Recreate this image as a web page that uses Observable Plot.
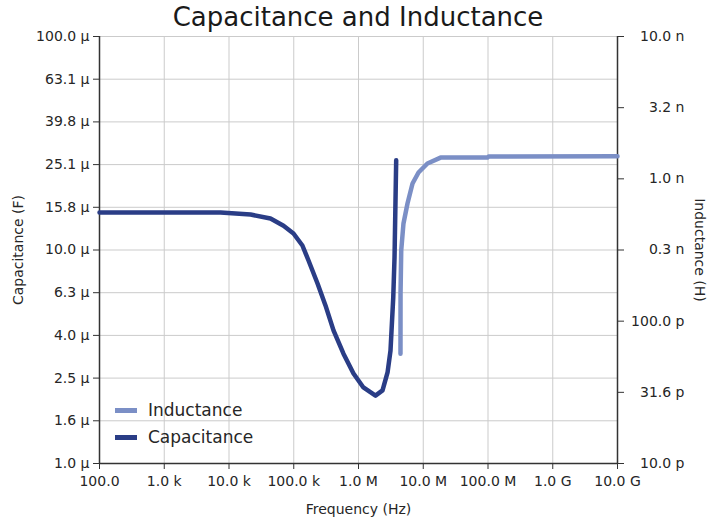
<!DOCTYPE html>
<html><head><meta charset="utf-8">
<script src="https://cdn.jsdelivr.net/npm/d3@7"></script>
<script src="https://cdn.jsdelivr.net/npm/@observablehq/plot@0.6"></script>
<style>
body{margin:0;background:#fff;font-family:"DejaVu Sans",sans-serif;}
#wrap{position:relative;width:724px;height:522px;overflow:hidden;}
#title{position:absolute;left:99px;width:518px;top:2px;text-align:center;font-size:26px;color:#1a1a1a;white-space:nowrap;}
.leg{position:absolute;left:115px;height:20px;display:flex;align-items:center;font-size:17px;color:#262626;}
.sw{width:22px;height:5px;margin-right:11px;}
</style></head>
<body><div id="wrap"><div id="title">Capacitance and Inductance</div></div>
<script>
// ---- data ----
const capFreq = [100, 1000, 7400, 21500, 43700, 69500, 99100, 136000, 169000, 233000, 309000, 411000, 586000, 837000, 1190000, 1830000, 2350000, 2810000, 3120000, 3440000, 3600000, 3820000];
const capValues = [15.0e-6, 15.0e-6, 15.0e-6, 14.66e-6, 14.05e-6, 13.0e-6, 11.95e-6, 10.5e-6, 8.93e-6, 6.97e-6, 5.5e-6, 4.2e-6, 3.27e-6, 2.64e-6, 2.27e-6, 2.08e-6, 2.2e-6, 2.67e-6, 3.38e-6, 5.99e-6, 9.22e-6, 26.3e-6];
const indFreq = [4450000, 4460000, 4570000, 4950000, 5710000, 6830000, 8450000, 11600000, 18500000, 98000000, 102000000, 10000000000];
const indValues = [59e-12, 156e-12, 314e-12, 486e-12, 671e-12, 927e-12, 1.108e-9, 1.282e-9, 1.41e-9, 1.41e-9, 1.435e-9, 1.44e-9];
const xTicks = [1e2, 1e3, 1e4, 1e5, 1e6, 1e7, 1e8, 1e9, 1e10];
const xTickLabels = ["100.0", "1.0 k", "10.0 k", "100.0 k", "1.0 M", "10.0 M", "100.0 M", "1.0 G", "10.0 G"];
const capTicks = [1e-6, 1.585e-6, 2.512e-6, 3.981e-6, 6.310e-6, 1e-5, 1.585e-5, 2.512e-5, 3.981e-5, 6.310e-5, 1e-4];
const capTickLabels = ["1.0 µ", "1.6 µ", "2.5 µ", "4.0 µ", "6.3 µ", "10.0 µ", "15.8 µ", "25.1 µ", "39.8 µ", "63.1 µ", "100.0 µ"];
const indTicks = [1e-11, 3.162e-11, 1e-10, 3.162e-10, 1e-9, 3.162e-9, 1e-8];
const indTickLabels = ["10.0 p", "31.6 p", "100.0 p", "0.3 n", "1.0 n", "3.2 n", "10.0 n"];
const seriesNames = ["Inductance", "Capacitance"];
const seriesColors = ["#7b8fc6", "#2a3d86"];

// inductance domain [1e-11,1e-8] mapped onto capacitance domain [1e-6,1e-4]
const toCap = L => Math.pow(10, -6 + (Math.log10(L) + 11) * 2 / 3);
const indTicksC = indTicks.map(toCap);
const lookup = (ticks, labels) => d => {
  let best = 0;
  ticks.forEach((t, i) => { if (Math.abs(Math.log(t / d)) < Math.abs(Math.log(ticks[best] / d))) best = i; });
  return labels[best];
};

const capData = capFreq.map((f, i) => ({f, v: capValues[i]}));
const indData = indFreq.map((f, i) => ({f, v: toCap(indValues[i])}));

const plot = Plot.plot({
  width: 724, height: 522,
  marginLeft: 99, marginRight: 107, marginTop: 36, marginBottom: 59,
  style: {fontFamily: "DejaVu Sans, sans-serif", fontSize: "14px", color: "#262626", background: "transparent"},
  x: {type: "log", domain: [1e2, 1e10]},
  y: {type: "log", domain: [1e-6, 1e-4]},
  marks: [
    Plot.gridX(xTicks, {stroke: "#cbcbcb", strokeOpacity: 1}),
    Plot.gridY(capTicks, {stroke: "#cbcbcb", strokeOpacity: 1}),
    Plot.axisX(xTicks, {tickFormat: lookup(xTicks, xTickLabels), tickSize: 6, tickPadding: 7, stroke: "#333", fill: "#262626", label: "Frequency (Hz)", labelAnchor: "center", labelArrow: "none", labelOffset: 50}),
    Plot.axisY(capTicks, {anchor: "left", tickFormat: lookup(capTicks, capTickLabels), tickSize: 6, tickPadding: 4, stroke: "#333", fill: "#262626", label: "Capacitance (F)", labelAnchor: "center", labelArrow: "none", labelOffset: 86}),
    Plot.axisY(indTicksC, {anchor: "right", tickFormat: lookup(indTicksC, indTickLabels), tickSize: 6, tickPadding: 61, textAnchor: "end", stroke: "#333", fill: "#262626", label: null}),
    Plot.text(["Inductance (H)"], {frameAnchor: "right", textAnchor: "middle", rotate: 90, dx: 82, fontSize: 14, fill: "#262626", lineAnchor: "middle"}),
    Plot.ruleX([1e2, 1e10], {stroke: "#333", strokeWidth: 1.5}),
    Plot.ruleY([1e-6], {stroke: "#333", strokeWidth: 1.5}),
    Plot.line(indData, {x: "f", y: "v", stroke: seriesColors[0], strokeWidth: 4.5}),
    Plot.line(capData, {x: "f", y: "v", stroke: seriesColors[1], strokeWidth: 4.5})
  ]
});
const wrap = document.getElementById("wrap");
wrap.insertBefore(plot, wrap.firstChild);
plot.style.position = "absolute"; plot.style.left = "0"; plot.style.top = "0";
seriesNames.forEach((name, i) => {
  const d = document.createElement("div");
  d.className = "leg";
  d.style.top = (400 + i * 27) + "px";
  d.innerHTML = `<span class="sw" style="background:${seriesColors[i]}"></span><span>${name}</span>`;
  wrap.appendChild(d);
});
</script></body></html>
